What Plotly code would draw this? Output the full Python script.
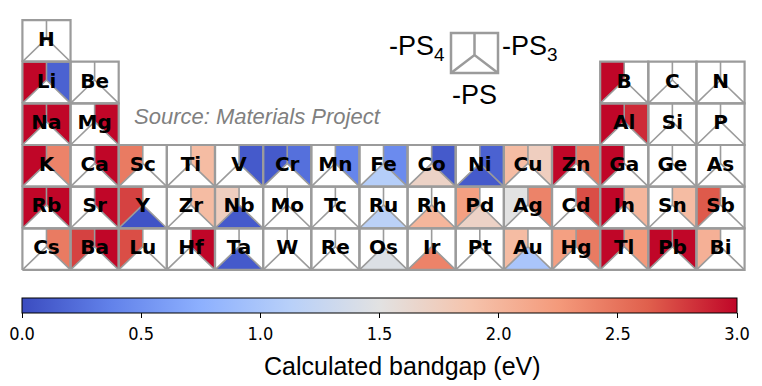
import plotly.graph_objects as go
from plotly.colors import sample_colorscale

# ---------------- data ----------------
elements = ["H",
            "Li", "Be", "B", "C", "N",
            "Na", "Mg", "Al", "Si", "P",
            "K", "Ca", "Sc", "Ti", "V", "Cr", "Mn", "Fe", "Co", "Ni", "Cu", "Zn", "Ga", "Ge", "As",
            "Rb", "Sr", "Y", "Zr", "Nb", "Mo", "Tc", "Ru", "Rh", "Pd", "Ag", "Cd", "In", "Sn", "Sb",
            "Cs", "Ba", "Lu", "Hf", "Ta", "W", "Re", "Os", "Ir", "Pt", "Au", "Hg", "Tl", "Pb", "Bi"]
columns = [1,
           1, 2, 13, 14, 15,
           1, 2, 13, 14, 15,
           1, 2, 3, 4, 5, 6, 7, 8, 9, 10, 11, 12, 13, 14, 15,
           1, 2, 3, 4, 5, 6, 7, 8, 9, 10, 11, 12, 13, 14, 15,
           1, 2, 3, 4, 5, 6, 7, 8, 9, 10, 11, 12, 13, 14, 15]
rows = [1,
        2, 2, 2, 2, 2,
        3, 3, 3, 3, 3,
        4, 4, 4, 4, 4, 4, 4, 4, 4, 4, 4, 4, 4, 4, 4,
        5, 5, 5, 5, 5, 5, 5, 5, 5, 5, 5, 5, 5, 5, 5,
        6, 6, 6, 6, 6, 6, 6, 6, 6, 6, 6, 6, 6, 6, 6]
N = None
# bandgap (eV) of -PS4 (left), -PS3 (right), -PS (bottom)
gap_ps4 = [N,
           3.0, N, 3.0, N, N,
           3.0, N, 3.0, N, N,
           3.0, N, 2.45, N, N, 0.1, N, N, N, N, 1.95, 3.0, 3.0, N, N,
           3.0, N, 2.75, N, 1.75, N, N, N, N, 2.2, 1.5, N, 3.0, N, 2.65,
           N, 2.75, 2.7, N, N, N, N, N, N, N, 1.95, 2.2, 3.0, 3.0, 2.05]
gap_ps3 = [N,
           0.15, N, N, N, N,
           3.0, 3.0, 2.85, N, N,
           2.4, 3.0, N, 1.95, 0.1, 0.25, 0.4, 0.45, 0.1, 0.15, 1.75, 2.45, N, N, N,
           3.0, 3.0, N, 1.95, N, N, N, N, N, N, 2.4, 2.7, 2.0, 1.95, N,
           2.45, 3.0, N, 3.0, N, N, N, N, N, N, N, 2.45, 2.25, 3.0, N]
gap_ps = [N,
          N, N, N, N, N,
          N, N, N, N, N,
          N, N, N, N, N, N, N, 1.1, 1.7, 0.1, N, N, N, N, N,
          N, N, 0.05, N, 0.1, N, N, 1.15, 2.0, 1.7, N, N, N, N, N,
          N, N, N, N, 0.1, N, N, 1.45, 2.4, N, 1.0, N, N, N, N]
cbar_ticks = [0.0, 0.5, 1.0, 1.5, 2.0, 2.5, 3.0]
cbar_ticktext = ["0.0", "0.5", "1.0", "1.5", "2.0", "2.5", "3.0"]
vmin, vmax = 0.0, 3.0

coolwarm = [[0.0, "rgb(59,76,192)"], [0.125, "rgb(98,130,234)"], [0.25, "rgb(141,176,254)"],
            [0.375, "rgb(184,208,249)"], [0.5, "rgb(226,226,226)"], [0.625, "rgb(245,196,173)"],
            [0.75, "rgb(244,154,123)"], [0.875, "rgb(224,96,77)"], [1.0, "rgb(192,6,40)"]]

# ---------------- geometry / style ----------------
W, H = 762, 386
ML, MR, MT, MB = 20, 15, 18, 114
XR = [-0.05, 15.05]
YR = [-6.05, 0.05]
PW, PH = W - ML - MR, H - MT - MB
CW = PW / (XR[1] - XR[0])
CH = PH / (YR[1] - YR[0])
JUNC = 0.56  # height of the junction point inside each cell
GRID = "rgb(155,155,155)"


def px2x(px):
    return XR[0] + (px - ML) / CW


def px2y(py):
    return YR[1] - (py - MT) / CH


def color_of(v):
    t = min(max((v - vmin) / (vmax - vmin), 0), 1)
    return sample_colorscale(coolwarm, [t])[0]


fig = go.Figure()

# filled regions
for el, c, r, a, b, d in zip(elements, columns, rows, gap_ps4, gap_ps3, gap_ps):
    x0, x1 = c - 1, c
    y0, y1 = -r, -r + 1
    xm, yj = x0 + 0.5, y0 + JUNC
    polys = [
        (a, [x0, xm, xm, x0, x0], [y1, y1, yj, y0, y1], "-PS4"),
        (b, [xm, x1, x1, xm, xm], [y1, y1, y0, yj, y1], "-PS3"),
        (d, [x0, xm, x1, x0], [y0, yj, y0, y0], "-PS"),
    ]
    for v, xs, ys, nm in polys:
        if v is None:
            continue
        fig.add_trace(go.Scatter(x=xs, y=ys, mode="lines", fill="toself",
                                 fillcolor=color_of(v), line=dict(width=0),
                                 name=f"{el}{nm}", showlegend=False,
                                 hoverinfo="text", text=f"{el}{nm}: {v} eV"))

# grid lines
ox, oy, ix, iy = [], [], [], []
for c, r in zip(columns, rows):
    x0, x1 = c - 1, c
    y0, y1 = -r, -r + 1
    xm, yj = x0 + 0.5, y0 + JUNC
    ox += [x0, x1, x1, x0, x0, None]
    oy += [y0, y0, y1, y1, y0, None]
    ix += [xm, xm, None, x0, xm, x1, None]
    iy += [y1, yj, None, y0, yj, y0, None]
fig.add_trace(go.Scatter(x=ix, y=iy, mode="lines", line=dict(color=GRID, width=1.6),
                         hoverinfo="skip", showlegend=False))
fig.add_trace(go.Scatter(x=ox, y=oy, mode="lines", line=dict(color=GRID, width=2.2),
                         hoverinfo="skip", showlegend=False))

# element symbols
fig.add_trace(go.Scatter(
    x=[c - 0.5 for c in columns], y=[-r + 0.5 for r in rows],
    mode="text", text=elements,
    textfont=dict(family="DejaVu Sans", size=20, color="black", weight="bold"),
    hoverinfo="skip", showlegend=False))

# colorbar carrier
fig.add_trace(go.Scatter(
    x=[None], y=[None], mode="markers",
    marker=dict(color=[vmin], colorscale=coolwarm, cmin=vmin, cmax=vmax, size=0,
                showscale=True,
                colorbar=dict(orientation="h", x=(379.5 - ML) / PW, xanchor="center",
                              y=(MT + PH - 298) / PH, yanchor="top",
                              len=715 / PW, lenmode="fraction", thickness=15,
                              xpad=0, ypad=0,
                              outlinewidth=1, outlinecolor="black",
                              tickvals=cbar_ticks, ticktext=cbar_ticktext,
                              ticks="outside", ticklen=5, tickcolor="black",
                              tickfont=dict(family="DejaVu Sans Condensed, DejaVu Sans",
                                            size=18, color="black"))),
    hoverinfo="skip", showlegend=False))

fig.add_annotation(xref="paper", yref="paper",
                   x=(402 - ML) / PW, y=(MT + PH - 366) / PH,
                   text="Calculated bandgap (eV)", showarrow=False,
                   xanchor="center", yanchor="middle",
                   font=dict(family="Liberation Sans, Arial", size=25, color="black"))

# legend icon
sx0, sx1, sy0, sy1 = px2x(451), px2x(498), px2y(73), px2y(33)
jx, jy = px2x(474.5), px2y(55)
fig.add_shape(type="rect", x0=sx0, x1=sx1, y0=sy0, y1=sy1,
              line=dict(color=GRID, width=2.5), xref="x", yref="y")
fig.add_shape(type="path",
              path=f"M {jx} {sy1} L {jx} {jy} M {sx0} {sy0} L {jx} {jy} L {sx1} {sy0}",
              line=dict(color=GRID, width=2.5), xref="x", yref="y")

lfont = dict(family="Liberation Sans, Arial", size=27, color="black")
fig.add_annotation(x=px2x(447), y=px2y(48), text="-PS<sub>4</sub>", showarrow=False,
                   xanchor="right", yanchor="middle", font=lfont)
fig.add_annotation(x=px2x(500), y=px2y(48), text="-PS<sub>3</sub>", showarrow=False,
                   xanchor="left", yanchor="middle", font=lfont)
fig.add_annotation(x=px2x(474.5), y=px2y(95), text="-PS", showarrow=False,
                   xanchor="center", yanchor="middle", font=lfont)
fig.add_annotation(x=px2x(132), y=px2y(116), text="<i>Source: Materials Project</i>",
                   showarrow=False, xanchor="left", yanchor="middle",
                   font=dict(family="Liberation Sans, Arial", size=22, color="rgb(128,128,128)"))

fig.update_xaxes(range=XR, visible=False, fixedrange=True)
fig.update_yaxes(range=YR, visible=False, fixedrange=True)
fig.update_layout(width=W, height=H, margin=dict(l=ML, r=MR, t=MT, b=MB, pad=0),
                  paper_bgcolor="white", plot_bgcolor="white", showlegend=False,
                  hovermode="closest")

fig.write_html("out.html", config={"displayModeBar": False},
               post_script="document.body.style.margin='0px';")
